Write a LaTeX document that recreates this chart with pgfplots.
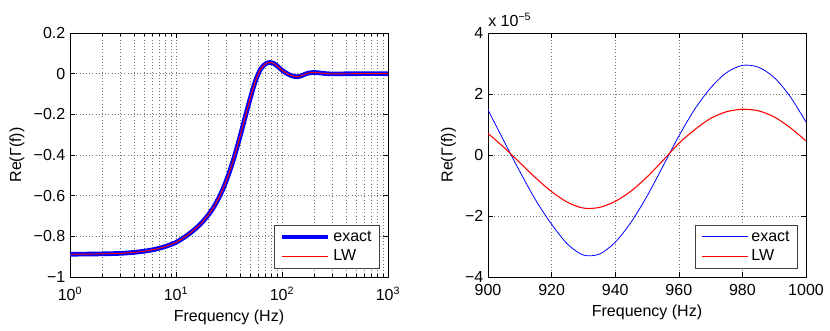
\documentclass[border=0pt]{standalone}
\usepackage{fontspec}
\setmainfont{Liberation Sans}
\usepackage{pgfplots}
\usepackage{pgfplotstable}
\pgfplotsset{compat=1.18}

\newcommand{\mfont}{\fontsize{12}{14}\selectfont}

\pgfplotsset{
  matlab/.style={
    scale only axis,
    width=238.5pt, height=183pt,
    anchor=south west,
    tick align=inside,
    major tick length=3.5pt,
    minor tick length=2pt,
    tick style={black, line width=0.4pt},
    axis line style={black, line width=0.5pt},
    grid style={black!55, dotted, line width=0.45pt},
    ticklabel style={font=\mfont},
    label style={font=\mfont},
    /pgf/number format/assume math mode=true,
    /pgf/number format/1000 sep={},
    legend style={font=\mfont, draw=black!75, line width=0.6pt, fill=white,
      at={(rel axis cs:0.975,0.035)}, anchor=south east,
      inner xsep=4pt, inner ysep=2pt, row sep=1pt},
    legend cell align=left,
    legend image code/.code={\draw[##1] (0pt,0pt) -- (35pt,0pt);},
  }
}

% Re(Gamma(f)) over the full band
\pgfplotstableread{
f      v
1      -0.888
1.585  -0.887
2.512  -0.885
3.162  -0.883
3.981  -0.879
5.012  -0.873
6.310  -0.864
7.943  -0.850
10     -0.830
11.22  -0.814
12.59  -0.797
14.13  -0.777
15.85  -0.755
17.78  -0.729
19.95  -0.698
22.39  -0.661
25.12  -0.615
28.18  -0.559
31.62  -0.490
35.48  -0.409
39.81  -0.317
44.67  -0.219
50.12  -0.122
56.23  -0.035
63.10   0.024
70.79   0.050
77.62   0.055
83.18   0.051
89.13   0.040
95.50   0.026
102.3   0.013
109.6   0.003
120.2  -0.008
131.8  -0.014
141.3  -0.015
151.4  -0.011
166.0  -0.002
182.0   0.004
199.5   0.006
223.9   0.004
251.2   0.001
281.8  -0.001
354.8  -0.001
501.2   0.000
1000    0.000
}\fullband

\begin{document}
\begin{tikzpicture}
\path[use as bounding box] (0pt,0pt) rectangle (622.5pt,247.5pt);

% left: full band, log frequency
\begin{axis}[matlab, at={(52.5pt,39.75pt)},
  xmode=log, xmin=1, xmax=1000, ymin=-1, ymax=0.2,
  xtick={1,10,100,1000},
  xticklabels={10\textsuperscript{0},10\textsuperscript{1},10\textsuperscript{2},10\textsuperscript{3}},
  xticklabel style={yshift=-4pt},
  ytick={-1,-0.8,-0.6,-0.4,-0.2,0,0.2},
  yticklabels={−1,−0.8,−0.6,−0.4,−0.2,0,0.2},
  xmajorgrids, xminorgrids, ymajorgrids,
  xlabel={Frequency (Hz)}, ylabel={Re(Γ(f))}]
\addplot[blue, line width=3.5pt, smooth] table[x=f, y=v] {\fullband};
\addlegendentry{exact}
\addplot[red, line width=0.7pt, smooth] table[x=f, y=v] {\fullband};
\addlegendentry{LW}
\end{axis}

% right: zoom on 900-1000 Hz
\begin{axis}[matlab, name=zoomax, at={(366pt,39.75pt)},
  xmin=900, xmax=1000, ymin=-4e-5, ymax=4e-5,
  xtick={900,920,940,960,980,1000},
  xticklabel style={yshift=-2pt},
  ytick={-4e-5,-2e-5,0,2e-5,4e-5},
  yticklabels={−4,−2,0,2,4},
  scaled y ticks=false,
  grid=major,
  xlabel={Frequency (Hz)}, ylabel={Re(Γ(f))}]
\addplot[blue, line width=0.6pt, smooth] coordinates {
(900,1.48e-5)(905,0.46e-5)(910,-0.54e-5)(915,-1.48e-5)(920,-2.27e-5)
(925,-2.92e-5)(930,-3.28e-5)(935,-3.25e-5)(940,-2.86e-5)(945,-2.20e-5)
(950,-1.35e-5)(955,-0.37e-5)(960,0.62e-5)(965,1.50e-5)(970,2.20e-5)
(975,2.70e-5)(980,2.94e-5)(985,2.88e-5)(990,2.54e-5)(995,1.92e-5)(1000,1.08e-5)};
\addlegendentry{exact}
\addplot[red, line width=0.8pt, smooth] coordinates {
(900,0.71e-5)(905,0.25e-5)(910,-0.25e-5)(915,-0.75e-5)(920,-1.20e-5)
(925,-1.55e-5)(930,-1.74e-5)(935,-1.72e-5)(940,-1.52e-5)(945,-1.18e-5)
(950,-0.72e-5)(955,-0.18e-5)(960,0.38e-5)(965,0.83e-5)(970,1.20e-5)
(975,1.42e-5)(980,1.50e-5)(985,1.45e-5)(990,1.25e-5)(995,0.90e-5)(1000,0.46e-5)};
\addlegendentry{LW}
\end{axis}
\node[anchor=base west, font=\mfont, inner sep=0pt, yshift=5pt] at (zoomax.north west)
  {x 10\textsuperscript{−5}};
\end{tikzpicture}
\end{document}
